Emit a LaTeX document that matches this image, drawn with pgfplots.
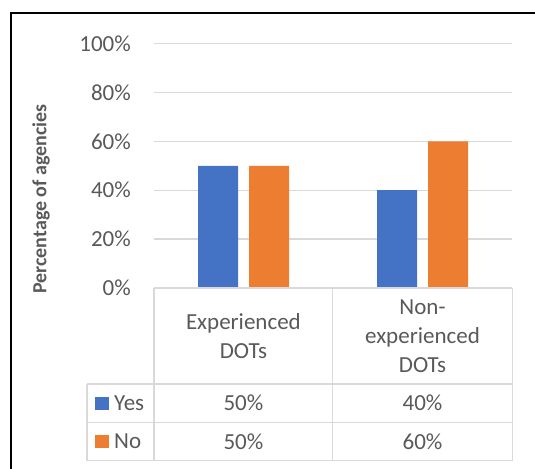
\documentclass[border=0pt]{standalone}
\usepackage{fontspec}
\setmainfont{Carlito}
\usepackage{pgfplots}
\pgfplotsset{compat=1.18}
\definecolor{xblue}{HTML}{4472C4}
\definecolor{xorange}{HTML}{ED7D31}
\definecolor{xgrid}{HTML}{D9D9D9}
\definecolor{xtext}{HTML}{595959}
\begin{document}
\begin{tikzpicture}
\begin{scope}[x=1bp,y=-1bp]
\path[use as bounding box] (0,0) rectangle (535,469);
\draw[black, line width=2bp] (11,470) -- (11,13) -- (536,13);
\end{scope}
\begin{axis}[
  at={(154bp,-288bp)}, anchor=south west,
  scale only axis, width=358.3bp, height=244.5bp,
  xmin=-0.5, xmax=1.5, ymin=0, ymax=100,
  ybar=11bp, bar width=40bp,
  xtick=\empty,
  ytick={0,20,40,60,80,100},
  yticklabel={\pgfmathprintnumber{\tick}\%},
  /pgf/number format/assume math mode=true,
  yticklabel style={font=\fontsize{23bp}{28bp}\selectfont, text=xtext, inner sep=0pt, xshift=-23bp},
  axis line style={draw=none},
  major tick length=0pt,
  ymajorgrids, grid style={xgrid, line width=1.3bp},
  clip=false,
]
\addplot[fill=xblue, draw=none] coordinates {(0,50) (1,40)};
\addplot[fill=xorange, draw=none] coordinates {(0,50) (1,60)};
\end{axis}
\begin{scope}[x=1bp,y=-1bp]
\node[rotate=90, text=xtext, font=\fontsize{20bp}{24bp}\selectfont\bfseries] at (41,199) {Percentage of agencies};
\begin{scope}[xgrid, line width=1.5bp]
\draw (154,288) -- (512.4,288);
\draw (87,384) -- (512.4,384);
\draw (87,422.5) -- (512.4,422.5);
\draw (87,460.5) -- (512.4,460.5);
\draw (87,384) -- (87,460.5);
\draw (154,288) -- (154,460.5);
\draw (332.7,288) -- (332.7,460.5);
\draw (512.4,288) -- (512.4,460.5);
\end{scope}
\begin{scope}[every node/.style={text=xtext, font=\fontsize{23bp}{29bp}\selectfont, inner sep=0pt, align=center}]
\node at (243.4,336) {Experienced\\DOTs};
\node at (422.5,336) {Non-\\experienced\\DOTs};
\node at (243.4,403) {50\%};
\node at (422.5,403) {40\%};
\node at (243.4,441.5) {50\%};
\node at (422.5,441.5) {60\%};
\node[anchor=west] at (114,403) {Yes};
\node[anchor=west] at (114,441.5) {No};
\end{scope}
\fill[xblue] (95,396.5) rectangle (109,409.5);
\fill[xorange] (95,435) rectangle (109,448);
\end{scope}
\end{tikzpicture}
\end{document}
